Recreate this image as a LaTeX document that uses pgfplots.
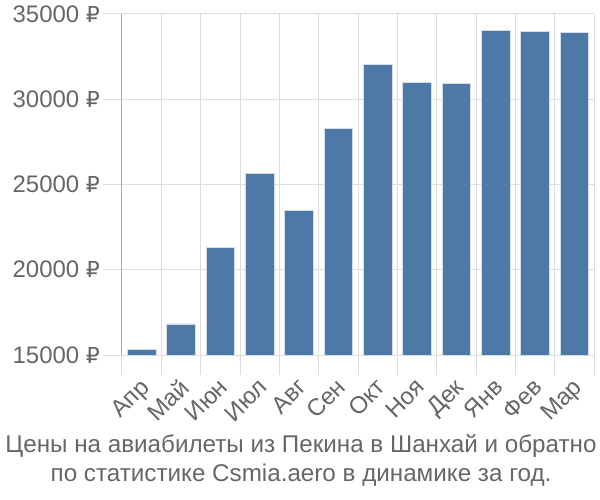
\documentclass[border=0pt]{standalone}
\usepackage{pgfplots}
\pgfplotsset{compat=1.18}
\usepackage{fontspec}
\setmainfont{Liberation Sans}
\newfontfamily\rub[Scale=0.92]{DejaVu Sans}
\newcommand{\R}{{\rub ₽}}
\definecolor{barblue}{HTML}{4E79A7}
\definecolor{gridgray}{HTML}{DDDDDD}
\definecolor{axisgray}{HTML}{AAAAAA}
\definecolor{textgray}{HTML}{666666}
\begin{document}
\begin{tikzpicture}
\useasboundingbox (-122bp,-145bp) rectangle (478bp,355bp);
\begin{axis}[
  at={(0,0)}, anchor=south west,
  scale only axis, width=472bp, height=341bp,
  xmin=-0.5, xmax=11.5, ymin=15000, ymax=35000,
  scaled y ticks=false,
  axis x line=bottom, axis y line=left,
  axis line style={-, draw=gridgray, line width=1bp},
  y axis line style={draw=axisgray},
  xtick={0,...,11},
  xticklabels={Апр,Май,Июн,Июл,Авг,Сен,Окт,Ноя,Дек,Янв,Фев,Мар},
  minor xtick={-0.5,0.5,...,11.5},
  major x tick style={draw=none},
  minor tick length=20bp,
  ytick={15000,20000,25000,30000,35000},
  yticklabels={15000 \R,20000 \R,25000 \R,30000 \R,35000 \R},
  major tick length=19bp,
  tick align=outside,
  tick style={draw=gridgray, line width=1bp},
  ymajorgrids, xminorgrids,
  grid style={draw=gridgray, line width=1bp},
  minor grid style={draw=gridgray, line width=1bp},
  /pgf/number format/assume math mode=true,
  tick label style={font=\fontsize{24}{28}\selectfont, text=textgray},
  yticklabel style={inner sep=0pt, xshift=-3bp},
  xticklabel style={rotate=45, anchor=north east, inner sep=0pt, xshift=-4bp, yshift=0bp},
  ybar, bar width=28.5bp,
]
\addplot[fill=barblue, draw=white!75!barblue, line width=0.8bp] coordinates {
(0,15350) (1,16820) (2,21330) (3,25670) (4,23500) (5,28310)
(6,32050) (7,31010) (8,30930) (9,34020) (10,33960) (11,33900)};
\end{axis}
\node[text=textgray, align=center, font=\fontsize{24.3}{29}\selectfont] at (179bp,-105bp)
  {Цены на авиабилеты из Пекина в Шанхай и обратно\\по статистике Csmia.aero в динамике за год.};
\end{tikzpicture}
\end{document}
